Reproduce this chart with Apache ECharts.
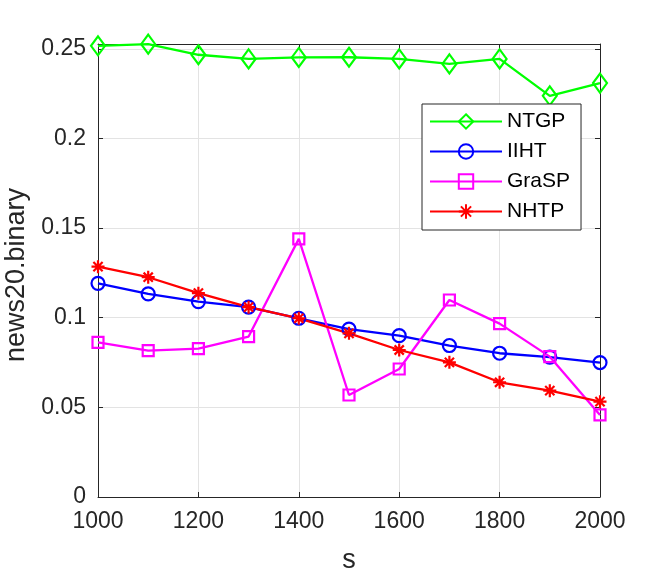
<!DOCTYPE html>
<html>
<head>
<meta charset="utf-8">
<script src="https://cdn.jsdelivr.net/npm/echarts@6/dist/echarts.min.js"></script>
<style>
html,body{margin:0;padding:0;background:#fff;}
#c{width:664px;height:575px;}
</style>
</head>
<body>
<div id="c"></div>
<script>
var sValues = [1000, 1100, 1200, 1300, 1400, 1500, 1600, 1700, 1800, 1900, 2000];
var ntgp  = [0.2517, 0.2526, 0.2467, 0.2444, 0.2452, 0.2453, 0.2444, 0.2416, 0.2444, 0.2238, 0.2309];
var iiht  = [0.1192, 0.1133, 0.1090, 0.1059, 0.0997, 0.0937, 0.0900, 0.0845, 0.0802, 0.0780, 0.0750];
var grasp = [0.0863, 0.0817, 0.0828, 0.0895, 0.1440, 0.0569, 0.0714, 0.1099, 0.0967, 0.0783, 0.0458];
var nhtp  = [0.1285, 0.1226, 0.1137, 0.1059, 0.0997, 0.0913, 0.0820, 0.0751, 0.0640, 0.0593, 0.0532];
var seriesNames = ['NTGP', 'IIHT', 'GraSP', 'NHTP'];
var xLabelName = 's';
var yLabelName = 'news20.binary';

function pairs(arr) { return sValues.map(function (s, i) { return [s, arr[i]]; }); }

var axisCol = '#262626';
var gridCol = '#e3e3e3';
var font = 'Liberation Sans, Arial, Helvetica, sans-serif';

function mkSeries(name, data, col, symbol, size) {
  return {
    name: name, type: 'line', data: pairs(data),
    color: col,
    symbol: symbol, symbolSize: size, showAllSymbol: true,
    lineStyle: { color: col, width: 2.3 },
    itemStyle: { color: 'rgba(0,0,0,0)', borderColor: col, borderWidth: 2.2 },
    emphasis: { disabled: true },
    animation: false, z: 3
  };
}

var asterisk = 'path://M5,0L5,10M0,5L10,5M1.46,1.46L8.54,8.54M1.46,8.54L8.54,1.46';

var chart = echarts.init(document.getElementById('c'), null, { renderer: 'canvas' });
chart.setOption({
  backgroundColor: '#fff',
  animation: false,
  grid: { left: 98, right: 64, top: 44, bottom: 78, containLabel: false, outerBoundsMode: 'none' },
  legend: {
    orient: 'vertical', left: 422, top: 104,
    padding: [7, 11, 8, 7],
    itemWidth: 72, itemHeight: 18, itemGap: 9,
    backgroundColor: '#fff', borderColor: axisCol, borderWidth: 1,
    textStyle: { fontFamily: font, fontSize: 21, color: '#000' },
    data: seriesNames,
    selectedMode: false
  },
  xAxis: [{
    type: 'value', min: 1000, max: 2000, interval: 200,
    name: xLabelName, nameLocation: 'middle', nameGap: 50,
    nameTextStyle: { fontFamily: font, fontSize: 27, color: axisCol },
    axisLine: { show: true, onZero: false, lineStyle: { color: axisCol, width: 1 } },
    axisTick: { show: true, inside: true, length: 5, lineStyle: { color: axisCol } },
    axisLabel: { fontFamily: font, fontSize: 23, color: axisCol, margin: 13,
      formatter: function (v) { return String(v); } },
    splitLine: { show: true, lineStyle: { color: gridCol, width: 1 } }
  }, {
    type: 'value', min: 1000, max: 2000, interval: 200, position: 'top',
    axisLine: { show: true, onZero: false, lineStyle: { color: axisCol, width: 1 } },
    axisTick: { show: true, inside: true, length: 5, lineStyle: { color: axisCol } },
    axisLabel: { show: false }, splitLine: { show: false }
  }],
  yAxis: [{
    type: 'value', min: 0, max: 0.2527, interval: 0.05,
    name: yLabelName, nameLocation: 'middle', nameGap: 59, nameRotate: 90,
    nameTextStyle: { fontFamily: font, fontSize: 27, color: axisCol, padding: [0, 9, 0, 0] },
    axisLine: { show: true, onZero: false, lineStyle: { color: axisCol, width: 1 } },
    axisTick: { show: true, inside: true, length: 5, lineStyle: { color: axisCol } },
    axisLabel: {
      fontFamily: font, fontSize: 23, color: axisCol, margin: 12,
      formatter: function (v) {
        var k = v / 0.05;
        return Math.abs(k - Math.round(k)) < 1e-6 ? String(+v.toFixed(2)) : '';
      }
    },
    splitLine: { show: true, lineStyle: { color: gridCol, width: 1 } }
  }, {
    type: 'value', min: 0, max: 0.2527, interval: 0.05, position: 'right',
    axisLine: { show: true, onZero: false, lineStyle: { color: axisCol, width: 1 } },
    axisTick: { show: true, inside: true, length: 5, lineStyle: { color: axisCol } },
    axisLabel: { show: false }, splitLine: { show: false }
  }],
  series: [
    mkSeries('NTGP', ntgp, '#00ff00', 'diamond', [14, 19]),
    mkSeries('IIHT', iiht, '#0000ff', 'circle', 13),
    mkSeries('GraSP', grasp, '#ff00ff', 'rect', 11),
    mkSeries('NHTP', nhtp, '#ff0000', asterisk, 13)
  ]
});
</script>
</body>
</html>
